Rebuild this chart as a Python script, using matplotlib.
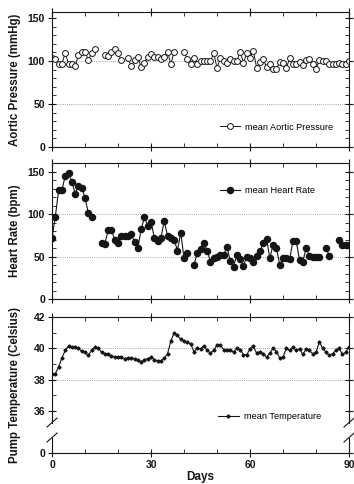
import matplotlib
matplotlib.use('Agg')
import matplotlib.pyplot as plt
import numpy as np
from matplotlib.ticker import MultipleLocator, FixedLocator
from matplotlib.lines import Line2D

plt.rcParams['font.family'] = ['Liberation Sans', 'DejaVu Sans']

# ---------------- data ----------------
days = list(range(0, 91))

aortic_pressure = [104, 102, 97, 97, 109, 97, 97, 94, 107, 111,
                   111, 101, 109, 114, None, None, 107, 106, 110, 114,
                   109, 101, None, 103, 94, 101, 105, 93, 98, 105,
                   108, 105, 105, 102, 105, 111, 96, 111, None, None,
                   111, 102, 97, 104, 97, 100, 100, 100, 100, 109,
                   92, 103, 100, 98, 102, 100, 100, 111, 98, 109,
                   104, 112, 92, 99, 102, 93, 97, 91, 91, 99,
                   98, 92, 103, 96, 96, 99, 95, 101, 102, 97,
                   91, 101, 100, 100, 97, 97, 96, 98, 97, 97,
                   100]

heart_rate = [72, 97, 128, 128, 145, 148, 138, 124, 133, 131,
              119, 101, 97, None, None, 66, 65, 81, 81, 70,
              66, 74, 74, 74, 76, 67, 60, 82, 96, 86,
              91, 72, 68, 72, 92, 74, 72, 70, 57, 78,
              48, 54, None, 40, 54, 59, 66, 57, 44, 48,
              50, 52, 52, 61, 45, 38, 52, 47, 39, 50,
              48, 43, 51, 56, 66, 71, 48, 64, 60, 40,
              48, 48, 47, 68, 68, 46, 44, 60, 51, 50,
              50, 49, None, 60, 51, None, None, 69, 63, 63,
              63]

temperature = [38.37, 38.37, 38.82, 39.38, 39.86, 40.16, 40.10, 40.06, 40.00, 39.80,
               39.75, 39.55, 39.86, 40.06, 40.00, 39.75, 39.65, 39.65, 39.48, 39.44,
               39.44, 39.44, 39.34, 39.38, 39.38, 39.34, 39.24, 39.13, 39.28, 39.34,
               39.44, 39.28, 39.20, 39.20, 39.38, 39.65, 40.47, 40.99, 40.82, 40.58,
               40.47, 40.41, 40.27, 39.79, 40.02, 39.96, 40.16, 39.86, 39.69, 39.90,
               40.20, 40.20, 39.92, 39.92, 39.92, 39.75, 40.00, 39.92, 39.59, 39.59,
               39.96, 40.12, 39.69, 39.79, 39.65, 39.44, 39.69, 40.00, 39.79, 39.38,
               39.44, 40.00, 39.86, 40.06, 39.86, 39.96, 39.61, 39.96, 39.86, 39.65,
               39.75, 40.41, 40.00, 39.75, 39.55, 39.65, 39.86, 40.00, 39.61, 39.75,
               40.10]

x_ticks = [0, 30, 60, 90]
ap_ticks = [0, 50, 100, 150]
hr_ticks = [0, 50, 100, 150]
temp_ticks = [36, 38, 40, 42]
temp_tick_labels = ['0', '36', '38', '40', '42']

ap = np.array([np.nan if v is None else v for v in aortic_pressure], dtype=float)
hr = np.array([np.nan if v is None else v for v in heart_rate], dtype=float)
tp = np.array(temperature, dtype=float)
d = np.array(days, dtype=float)

INK = '#151515'
GRID = '#8a8a8a'

fig = plt.figure(figsize=(3.54, 4.84), dpi=100)
ax1 = fig.add_axes([0.147, 0.6963, 0.839, 0.279])
ax2 = fig.add_axes([0.147, 0.3822, 0.839, 0.281])
ax3 = fig.add_axes([0.147, 0.0640, 0.839, 0.281])


def style(ax, show_x):
    ax.set_xlim(0, 90)
    ax.xaxis.set_major_locator(FixedLocator(x_ticks))
    ax.xaxis.set_minor_locator(MultipleLocator(10))
    ax.tick_params(which='major', direction='inout', length=6, width=0.8,
                   top=True, right=True, labelsize=7.5, pad=2, colors=INK)
    ax.tick_params(which='minor', direction='in', length=3, width=0.6,
                   top=True, right=True, colors=INK)
    if not show_x:
        ax.tick_params(axis='x', labelbottom=False)
    for s in ax.spines.values():
        s.set_linewidth(0.8)
        s.set_color(INK)


# ---- Aortic pressure ----
style(ax1, False)
ax1.set_ylim(0, 157)
ax1.yaxis.set_major_locator(FixedLocator(ap_ticks))
ax1.yaxis.set_minor_locator(MultipleLocator(10))
for g in (50, 100):
    ax1.axhline(g, ls=(0, (1, 1.5)), color=GRID, lw=0.6, zorder=0)
ax1.plot(d, ap, '-', color=INK, lw=0.7, marker='o', ms=4.2, mfc='white',
         mec=INK, mew=0.7, label='mean Aortic Pressure')
ax1.set_ylabel('Aortic Pressure (mmHg)', fontsize=8.3, fontweight='bold', color=INK)
ax1.legend(loc='center left', bbox_to_anchor=(0.566, 0.148), frameon=False,
           fontsize=6.6, handlelength=2.2, handletextpad=0.55, borderpad=0,
           borderaxespad=0)

# ---- Heart rate ----
style(ax2, False)
ax2.set_ylim(0, 160)
ax2.yaxis.set_major_locator(FixedLocator(hr_ticks))
ax2.yaxis.set_minor_locator(MultipleLocator(10))
for g in (50, 100):
    ax2.axhline(g, ls=(0, (1, 1.5)), color=GRID, lw=0.6, zorder=0)
ax2.plot(d, hr, '-', color=INK, lw=0.8, marker='o', ms=4.4, mfc=INK,
         mec=INK, label='mean Heart Rate')
ax2.set_ylabel('Heart Rate (bpm)', fontsize=8.3, fontweight='bold', color=INK)
ax2.legend(loc='center left', bbox_to_anchor=(0.566, 0.80), frameon=False,
           fontsize=6.6, handlelength=2.2, handletextpad=0.55, borderpad=0,
           borderaxespad=0)

# ---- Temperature (broken axis) ----
style(ax3, True)
bottom = 33.3
ax3.set_ylim(bottom, 42)
ax3.yaxis.set_major_locator(FixedLocator([bottom] + temp_ticks))
ax3.set_yticklabels(temp_tick_labels)
ax3.yaxis.set_minor_locator(FixedLocator([37, 39, 41]))
for g in (38, 40):
    ax3.axhline(g, ls=(0, (1, 1.5)), color=GRID, lw=0.6, zorder=0)
ax3.plot(d, tp, '-', color=INK, lw=0.8, marker='D', ms=1.6, mfc=INK,
         mec=INK, label='mean Temperature')
ax3.set_ylabel('Pump Temperature (Celsius)', fontsize=8.3, fontweight='bold', color=INK)
ax3.set_xlabel('Days', fontsize=8.5, fontweight='bold', color=INK, labelpad=1)
ax3.legend(loc='center left', bbox_to_anchor=(0.56, 0.265), frameon=False,
           fontsize=6.6, handlelength=2.2, handletextpad=0.55, borderpad=0,
           borderaxespad=0)

# broken spines
ax3.spines['left'].set_visible(False)
ax3.spines['right'].set_visible(False)
b_lo, b_hi = 0.114, 0.224
for xs in (0.0, 1.0):
    for (y0, y1) in ((0.0, b_lo), (b_hi, 1.0)):
        ax3.add_line(Line2D([xs, xs], [y0, y1], transform=ax3.transAxes,
                            color=INK, lw=0.8, clip_on=False))
    for yc in (b_lo, b_hi):
        ax3.add_line(Line2D([xs - 0.017, xs + 0.017], [yc - 0.033, yc + 0.033],
                            transform=ax3.transAxes, color=INK, lw=0.8,
                            clip_on=False))

for ax in (ax1, ax2, ax3):
    for lab in ax.get_xticklabels() + ax.get_yticklabels():
        lab.set_fontweight('bold')
    ax.yaxis.set_label_coords(-0.105, 0.5)

fig.savefig('out.png', dpi=100)
